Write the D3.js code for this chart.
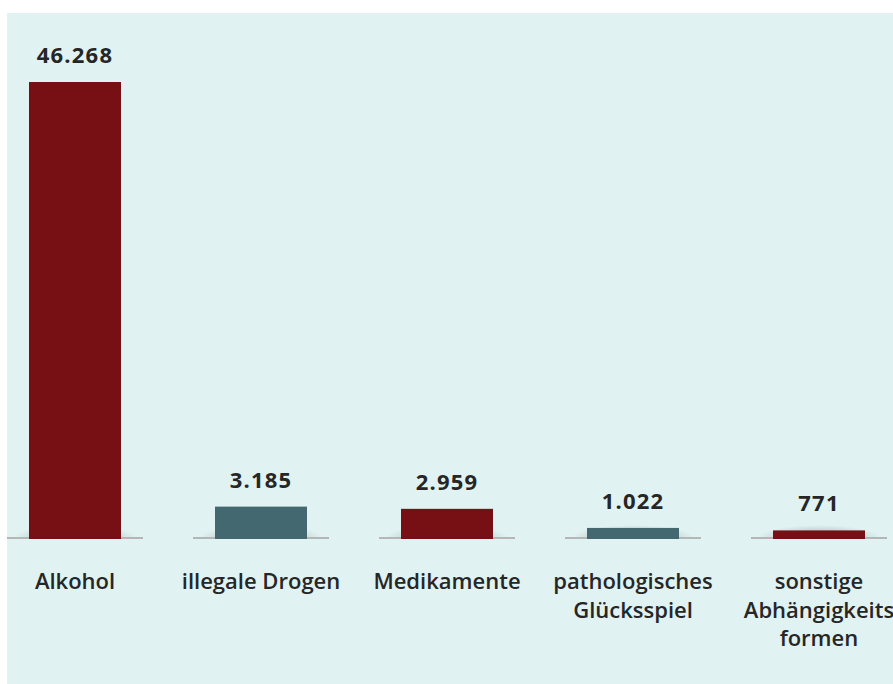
<!DOCTYPE html>
<html>
<head>
<meta charset="utf-8">
<script src="https://cdn.jsdelivr.net/npm/d3@7"></script>
<style>
  body { margin: 0; background: #fff; }
  svg { display: block; }
</style>
</head>
<body>
<div id="chart"></div>
<script>
// data
const categories = ['Alkohol', 'illegale Drogen', 'Medikamente', 'pathologisches Glücksspiel', 'sonstige Abhängigkeits formen']
const labelLines = [['Alkohol'], ['illegale Drogen'], ['Medikamente'], ['pathologisches', 'Glücksspiel'], ['sonstige', 'Abhängigkeits', 'formen']]
const values = [46268, 3185, 2959, 1022, 771]
const valueLabels = ['46.268', '3.185', '2.959', '1.022', '771']
const barColors = ['#771015', '#436870', '#771015', '#436870', '#771015']

const width = 893, height = 684
const baseY = 538

const svg = d3.select('#chart').append('svg')
  .attr('width', width)
  .attr('height', height)

// panel
svg.append('rect')
  .attr('x', 7).attr('y', 13)
  .attr('width', width - 7).attr('height', height - 13)
  .attr('fill', '#e0f2f2')

// soft shadow behind the bar feet, only above the base line
const defs = svg.append('defs')
const grad = defs.append('radialGradient').attr('id', 'shadow')
grad.append('stop').attr('offset', '0%').attr('stop-color', '#000').attr('stop-opacity', 0.28)
grad.append('stop').attr('offset', '55%').attr('stop-color', '#000').attr('stop-opacity', 0.13)
grad.append('stop').attr('offset', '100%').attr('stop-color', '#000').attr('stop-opacity', 0)
// clip is in the user space of each (translated) bar group
defs.append('clipPath').attr('id', 'above')
  .append('rect').attr('x', -100).attr('y', 0).attr('width', 200).attr('height', baseY)

const x = d3.scalePoint()
  .domain(categories)
  .range([75, 819])

const y = d3.scaleLinear()
  .domain([0, 46268])
  .range([baseY, 82])

const barW = 92, segW = 136

const g = svg.selectAll('g.bar')
  .data(categories)
  .join('g')
  .attr('class', 'bar')
  .attr('transform', d => 'translate(' + x(d) + ',0)')

g.append('g')
  .attr('clip-path', 'url(#above)')
  .append('ellipse')
  .attr('cx', 0).attr('cy', baseY)
  .attr('rx', segW / 2 - 6).attr('ry', 13)
  .attr('fill', 'url(#shadow)')

g.append('rect')
  .attr('x', -segW / 2).attr('y', baseY - 1)
  .attr('width', segW).attr('height', 2)
  .attr('fill', '#b4b6b7')

g.append('rect')
  .attr('x', -barW / 2)
  .attr('y', (d, i) => y(values[i]))
  .attr('width', barW)
  .attr('height', (d, i) => baseY + 1 - y(values[i]))
  .attr('fill', (d, i) => barColors[i])

g.append('text')
  .attr('text-anchor', 'middle')
  .attr('y', (d, i) => y(values[i]) - 19)
  .attr('font-family', 'Open Sans, sans-serif')
  .attr('font-weight', 700)
  .attr('font-size', 22)
  .attr('letter-spacing', 1.2)
  .attr('fill', '#262626')
  .text((d, i) => valueLabels[i])

// category labels, possibly several lines
g.append('text')
  .attr('text-anchor', 'middle')
  .attr('font-family', 'Open Sans, sans-serif')
  .attr('font-weight', 600)
  .attr('font-size', 22)
  .attr('fill', '#262626')
  .selectAll('tspan')
  .data((d, i) => labelLines[i])
  .join('tspan')
  .attr('x', 0)
  .attr('y', (d, j) => 589 + j * 28.5)
  .text(d => d)
</script>
</body>
</html>
